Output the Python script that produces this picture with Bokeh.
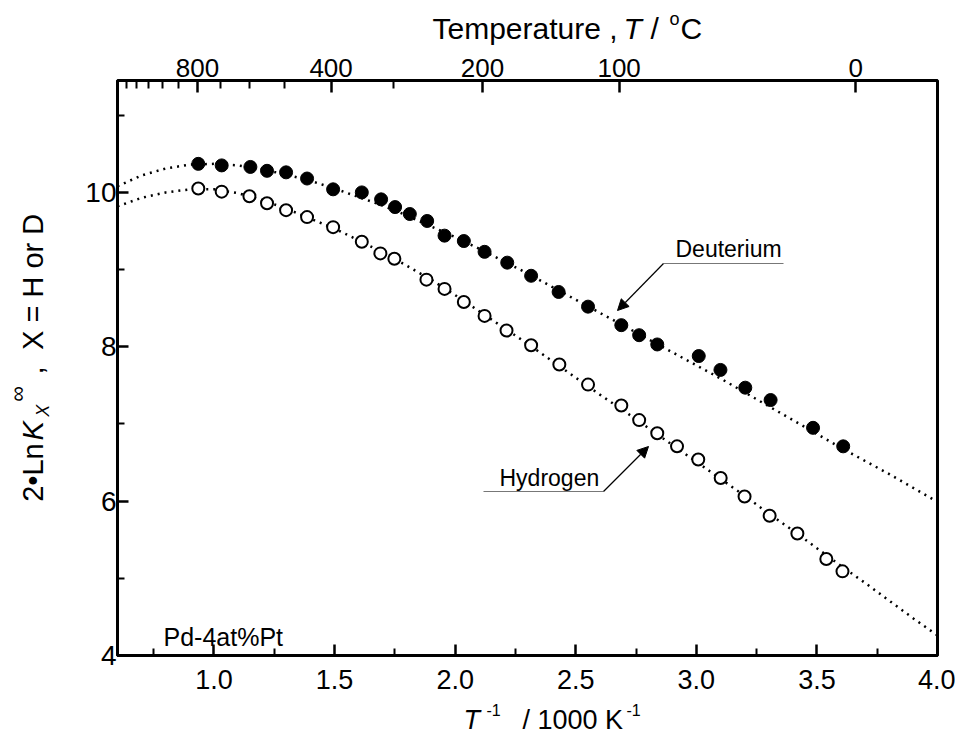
import math
from bokeh.plotting import figure
from bokeh.layouts import column, row
from bokeh.models import (Range1d, LinearAxis, FixedTicker, Label, Arrow,
                          NormalHead, PrintfTickFormatter)
from bokeh.core.properties import value
from bokeh.embed import file_html
from bokeh.resources import INLINE

# ---------------- data ----------------
# inverse temperature, 1000/T (K^-1)
deut_x = [0.935, 1.032, 1.151, 1.220, 1.299, 1.386, 1.494, 1.613, 1.693, 1.751,
          1.812, 1.884, 1.956, 2.036, 2.122, 2.216, 2.315, 2.429, 2.551, 2.689,
          2.763, 2.838, 3.010, 3.100, 3.203, 3.308, 3.484, 3.609]
deut_y = [10.37, 10.35, 10.33, 10.28, 10.26, 10.18, 10.04, 10.00, 9.91, 9.81,
          9.72, 9.63, 9.44, 9.37, 9.23, 9.09, 8.92, 8.71, 8.52, 8.28,
          8.15, 8.03, 7.88, 7.70, 7.47, 7.31, 6.95, 6.71]

hyd_x = [0.935, 1.032, 1.147, 1.220, 1.299, 1.386, 1.494, 1.613, 1.690, 1.748,
         1.881, 1.956, 2.036, 2.122, 2.213, 2.315, 2.432, 2.551, 2.689, 2.763,
         2.838, 2.920, 3.008, 3.101, 3.200, 3.304, 3.419, 3.539, 3.606]
hyd_y = [10.05, 10.01, 9.95, 9.86, 9.77, 9.68, 9.55, 9.36, 9.21, 9.14,
         8.87, 8.75, 8.58, 8.40, 8.21, 8.02, 7.77, 7.51, 7.24, 7.05,
         6.88, 6.71, 6.54, 6.30, 6.06, 5.81, 5.58, 5.25, 5.09]

# fitted (dotted) curves
fit_x = [0.6, 0.7, 0.8, 0.9, 1.0, 1.1, 1.2, 1.3, 1.4, 1.5, 1.6, 1.7, 1.8, 1.9,
         2.0, 2.1, 2.2, 2.3, 2.4, 2.5, 2.6, 2.7, 2.8, 2.9, 3.0, 3.1, 3.2, 3.3,
         3.4, 3.5, 3.6, 3.7, 3.8, 3.9, 4.0]
deut_fit = [10.08, 10.22, 10.31, 10.36, 10.37, 10.35, 10.30, 10.23, 10.15, 10.05,
            9.94, 9.83, 9.70, 9.56, 9.42, 9.27, 9.11, 8.95, 8.78, 8.61,
            8.44, 8.27, 8.10, 7.93, 7.76, 7.59, 7.41, 7.23, 7.05, 6.87,
            6.69, 6.52, 6.35, 6.17, 5.99]
hyd_fit = [9.82, 9.93, 10.00, 10.04, 10.04, 9.99, 9.90, 9.79, 9.66, 9.53,
           9.38, 9.22, 9.05, 8.87, 8.67, 8.46, 8.25, 8.04, 7.82, 7.60,
           7.38, 7.17, 6.95, 6.73, 6.51, 6.29, 6.07, 5.84, 5.62, 5.39,
           5.16, 4.94, 4.71, 4.48, 4.26]

bottom_ticks = [1.0, 1.5, 2.0, 2.5, 3.0, 3.5, 4.0]
bottom_minor = [0.75, 1.25, 1.75, 2.25, 2.75, 3.25, 3.75]
left_ticks = [4, 6, 8, 10]
left_minor = [5, 7, 9, 11]
top_major_temps = [800, 400, 200, 100, 0]
top_minor_temps = [1300, 1200, 1100, 1000, 900, 700, 600, 500, 300]

X0, X1 = 0.6, 4.0
Y0, Y1 = 4.0, 11.45

# ---------------- layout (page pixels) ----------------
TOTAL_W = 955
TOP_H = 46
LEFT_W = 60
FW, FH = 820, 575
P_ML, P_MT, P_MR, P_MB = 57, 34, 18, 46
P_W = P_ML + FW + P_MR
P_H = P_MT + FH + P_MB
BOT_H = 36
FRAME_L = LEFT_W + P_ML          # 117
FRAME_T = TOP_H + P_MT           # 80
FRAME_B = FRAME_T + FH           # 655
SANS = "Liberation Sans"
BASE_FIX = 0.36                  # renderer draws "alphabetic" text a bit low


def dx(px):  # page pixel -> data x
    return X0 + (px - FRAME_L) * (X1 - X0) / FW


def dy(py):  # page pixel -> data y
    return Y0 + (FRAME_B - py) * (Y1 - Y0) / FH


p = figure(x_range=Range1d(X0, X1), y_range=Range1d(Y0, Y1),
           frame_width=FW, frame_height=FH,
           min_border_left=P_ML, min_border_top=P_MT,
           min_border_right=P_MR, min_border_bottom=P_MB,
           output_backend="svg", toolbar_location=None,
           background_fill_color="white", border_fill_color="white")
p.grid.visible = False
p.outline_line_color = "black"
p.outline_line_width = 3

for ax in (p.xaxis[0], p.yaxis[0]):
    ax.axis_line_width = 3
    ax.major_tick_line_width = 2.5
    ax.minor_tick_line_width = 2
    ax.major_tick_in = 11
    ax.major_tick_out = 0
    ax.minor_tick_in = 7
    ax.minor_tick_out = 0
    ax.major_label_text_font = SANS
    ax.major_label_text_color = "black"

p.xaxis.ticker = FixedTicker(ticks=bottom_ticks, minor_ticks=bottom_minor)
p.xaxis.formatter = PrintfTickFormatter(format="%.1f")
p.xaxis.major_label_standoff = 14
p.xaxis.major_label_text_font_size = "27px"
p.yaxis.ticker = FixedTicker(ticks=left_ticks, minor_ticks=left_minor)
p.yaxis.major_label_standoff = 1
p.yaxis.major_label_text_font_size = "28px"

top_major_pos = [1000.0 / (t + 273.15) for t in top_major_temps]
top_minor_pos = [1000.0 / (t + 273.15) for t in top_minor_temps]
top = LinearAxis(ticker=FixedTicker(ticks=top_major_pos, minor_ticks=top_minor_pos),
                 major_label_overrides={pos: str(t) for pos, t in zip(top_major_pos, top_major_temps)})
top.axis_line_width = 2
top.major_tick_line_width = 2.5
top.minor_tick_line_width = 2
top.major_tick_in = 12
top.major_tick_out = 0
top.minor_tick_in = 8
top.minor_tick_out = 0
top.major_label_standoff = 4
top.major_label_text_font = SANS
top.major_label_text_font_size = "26px"
top.major_label_text_color = "black"
p.add_layout(top, "above")

# ---------------- curves & points ----------------
p.line(fit_x, deut_fit, line_color="black", line_width=2.5, line_dash="2 5")
p.line(fit_x, hyd_fit, line_color="black", line_width=2.5, line_dash="2 5")
p.scatter(deut_x, deut_y, marker="circle", size=13, fill_color="black",
          line_color="black", line_width=1)
p.scatter(hyd_x, hyd_y, marker="circle", size=12, fill_color="white",
          line_color="black", line_width=2)


def lab(px, py, text, size, italic=False):
    p.add_layout(Label(x=dx(px), y=dy(py - BASE_FIX * size), text=text, text_font=SANS,
                       text_font_size=f"{size}px",
                       text_font_style="italic" if italic else "normal",
                       text_color="black",
                       text_align="left", text_baseline="alphabetic"))


lab(675, 257, "Deuterium", 23)
lab(499, 486, "Hydrogen", 23)
lab(163, 645, "Pd-4at%Pt", 25)

p.segment(x0=[dx(663), dx(483)], y0=[dy(263), dy(491)],
          x1=[dx(783), dx(603)], y1=[dy(263), dy(491)],
          line_color="#777777", line_width=1.2)
p.add_layout(Arrow(end=NormalHead(size=11, fill_color="black", line_color="black"),
                   x_start=dx(663), y_start=dy(263), x_end=dx(617), y_end=dy(310),
                   line_width=1.2, line_color="black"))
p.add_layout(Arrow(end=NormalHead(size=11, fill_color="black", line_color="black"),
                   x_start=dx(603), y_start=dy(491), x_end=dx(648), y_end=dy(446),
                   line_width=1.2, line_color="black"))


# ---------------- text strips for the axis titles ----------------
def strip(ox, oy, w, h):
    f = figure(width=w, height=h, x_range=Range1d(ox, ox + w),
               y_range=Range1d(-(oy + h), -oy), x_axis_type=None, y_axis_type=None,
               min_border=0, output_backend="svg", toolbar_location=None,
               background_fill_color="white", border_fill_color="white")
    f.grid.visible = False
    f.outline_line_color = None
    return f


def put(f, px, py, text, size, italic=False, angle=0.0, shift=0.0):
    # px, py: page position of the text's baseline start
    if angle:
        px = px - BASE_FIX * size
    else:
        py = py - BASE_FIX * size
    f.text(x=[px], y=[-(py + shift)], text=[text], text_font=value(SANS),
           text_font_size=f"{size}px",
           text_font_style="italic" if italic else "normal",
           text_color="black", angle=angle,
           text_align="left", text_baseline="alphabetic")


ft = strip(0, 0, TOTAL_W, TOP_H)
put(ft, 432, 39, "Temperature ,", 30)
put(ft, 623, 39, "T", 30, italic=True)
put(ft, 650, 39, "/", 30)
put(ft, 669, 25, "o", 18)
put(ft, 680, 39, "C", 30)

fl = strip(0, TOP_H, LEFT_W, P_H)
R = math.pi / 2
put(fl, 43, 508, "2\u2022Ln", 29, angle=R, shift=18)
put(fl, 43, 444, "K", 29, italic=True, angle=R, shift=12)
put(fl, 49, 419, "X", 18, italic=True, angle=R, shift=10)
put(fl, 25, 402, "\u221e", 22, angle=R, shift=10)
put(fl, 43, 371, ",", 29, angle=R, shift=10)
put(fl, 43, 348, "X = H or D", 29, angle=R, shift=5)

fb = strip(0, TOP_H + P_H, TOTAL_W, BOT_H)
put(fb, 463, 729, "T", 27, italic=True)
put(fb, 486, 715, "-1", 16)
put(fb, 522, 729, "/ 1000 K", 27)
put(fb, 626, 715, "-1", 16)

layout = column(ft, row(fl, p, spacing=0), fb, spacing=0)
open("out.html", "w").write(file_html(layout, INLINE))
